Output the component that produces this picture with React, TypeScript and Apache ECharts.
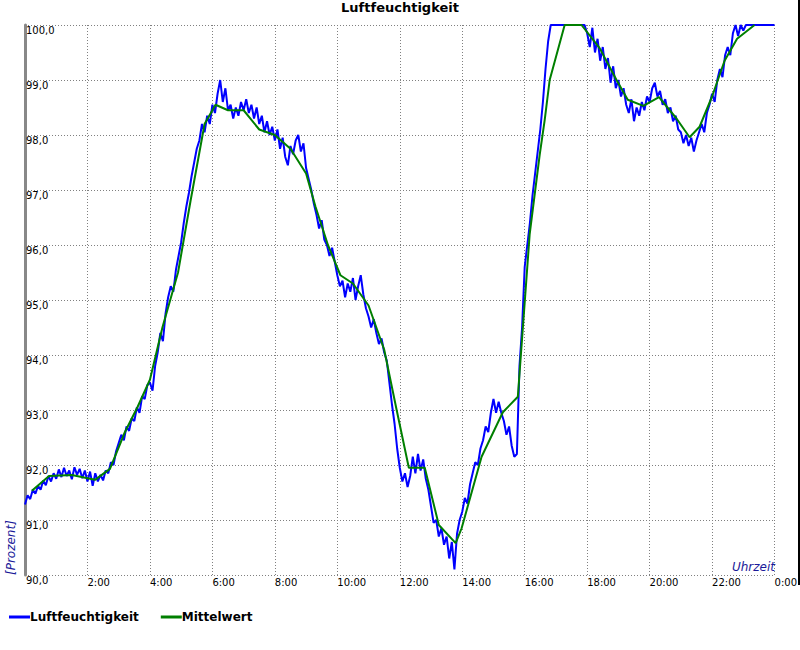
import React, { useEffect, useRef } from "react";
import * as echarts from "echarts";

// Tick labels
const X_TICKS_HOURS = [0, 2, 4, 6, 8, 10, 12, 14, 16, 18, 20, 22, 24];
const Y_MIN = 90;
const Y_MAX = 100;

// Humidity (%), 5-minute samples, one row per hour (0:00 .. 23:55)
const HUMIDITY_BY_HOUR: number[][] = [
  [91.28, 91.45, 91.38, 91.55, 91.48, 91.62, 91.55, 91.72, 91.63, 91.80, 91.70, 91.85],
  [91.75, 91.92, 91.78, 91.95, 91.80, 91.90, 91.74, 91.96, 91.82, 91.93, 91.76, 91.90],
  [91.70, 91.88, 91.62, 91.85, 91.70, 91.82, 91.72, 91.90, 91.85, 92.05, 92.00, 92.25],
  [92.40, 92.55, 92.45, 92.70, 92.62, 92.85, 92.80, 93.05, 92.95, 93.25, 93.20, 93.45],
  [93.50, 93.35, 93.80, 94.05, 94.40, 94.25, 94.75, 95.05, 95.25, 95.15, 95.55, 95.80],
  [96.05, 96.40, 96.70, 96.95, 97.25, 97.50, 97.75, 97.90, 98.20, 98.05, 98.35, 98.20],
  [98.55, 98.40, 98.75, 99.00, 98.60, 98.85, 98.45, 98.55, 98.30, 98.50, 98.35, 98.60],
  [98.45, 98.65, 98.40, 98.55, 98.30, 98.50, 98.20, 98.35, 98.05, 98.25, 98.00, 98.15],
  [97.90, 98.10, 97.75, 97.95, 97.60, 97.45, 97.80, 97.65, 97.90, 98.00, 97.70, 97.85],
  [97.40, 97.20, 97.00, 96.75, 96.55, 96.30, 96.45, 96.10, 96.00, 95.80, 95.95, 95.70],
  [95.45, 95.25, 95.35, 95.05, 95.30, 95.15, 95.40, 95.00, 95.25, 95.45, 95.10, 94.85],
  [94.70, 94.50, 94.65, 94.40, 94.20, 94.30, 94.05, 93.90, 93.50, 93.10, 92.75, 92.30],
  [91.95, 91.70, 91.85, 91.60, 91.80, 92.15, 91.85, 92.20, 91.90, 92.10, 91.75, 91.55],
  [91.25, 90.95, 91.00, 90.70, 90.85, 90.55, 90.70, 90.30, 90.60, 90.10, 90.75, 91.00],
  [91.15, 91.40, 91.30, 91.65, 91.85, 92.05, 92.00, 92.30, 92.45, 92.70, 92.60, 92.95],
  [93.20, 92.95, 93.15, 92.95, 92.80, 92.55, 92.70, 92.35, 92.15, 92.20, 93.80, 94.50],
  [95.60, 96.00, 96.40, 96.90, 97.30, 97.70, 98.10, 98.60, 99.20, 99.70, 100.0, 100.0],
  [100.0, 100.0, 100.0, 100.0, 100.0, 100.0, 100.0, 100.0, 100.0, 100.0, 100.0, 100.0],
  [99.85, 99.60, 99.95, 99.50, 99.75, 99.35, 99.60, 99.20, 99.40, 98.95, 99.25, 98.85],
  [99.00, 98.70, 98.85, 98.55, 98.40, 98.65, 98.25, 98.50, 98.35, 98.60, 98.45, 98.70],
  [98.60, 98.85, 98.95, 98.70, 98.80, 98.55, 98.65, 98.40, 98.50, 98.25, 98.35, 98.10],
  [98.05, 97.85, 98.00, 97.80, 97.95, 97.70, 97.90, 98.05, 98.20, 98.05, 98.40, 98.55],
  [98.75, 98.60, 99.00, 99.20, 99.05, 99.45, 99.60, 99.45, 99.85, 100.0, 99.80, 100.0],
  [99.90, 100.0, 100.0, 100.0, 100.0, 100.0, 100.0, 100.0, 100.0, 100.0, 100.0, 100.0],
];
const HUMIDITY_AT_MIDNIGHT = 100.0;
const SAMPLES_PER_HOUR = 12;

// Mittelwert (moving mean): [hour, %]
const MEAN_HOURS = [
  0.22, 0.77, 1.5, 2.24, 2.72, 3.2, 3.6, 4.0, 4.4, 4.9, 5.3, 5.75, 6.1, 6.5, 7.0, 7.5,
  8.0, 8.5, 9.0, 9.3, 9.7, 10.1, 10.5, 11.0, 11.5, 11.9, 12.29, 12.8, 13.25, 13.79,
  13.98, 14.62, 15.3, 15.78, 16.16, 16.48, 16.64, 16.8, 17.28, 17.82, 18.4, 18.94,
  19.3, 19.8, 20.3, 20.86, 21.28, 21.6, 22.0, 22.4, 22.8, 23.36,
];
const MEAN_VALUES = [
  91.53, 91.80, 91.82, 91.73, 91.93, 92.60, 93.05, 93.55, 94.50, 95.50, 96.80, 98.20,
  98.55, 98.45, 98.45, 98.10, 98.00, 97.75, 97.30, 96.70, 96.00, 95.45, 95.30, 94.90,
  94.10, 93.00, 91.95, 91.95, 90.91, 90.58, 90.85, 92.15, 92.96, 93.24, 96.20, 97.64,
  98.27, 99.00, 100.0, 100.0, 99.58, 99.00, 98.64, 98.53, 98.69, 98.30, 97.96, 98.15,
  98.70, 99.35, 99.75, 100.0,
];

const FONT = "DejaVu Sans";
const AXIS_NAME_COLOR = "#1a1a99";

export default function App() {
  const ref = useRef<HTMLDivElement>(null);

  useEffect(() => {
    document.body.style.margin = "0";
    if (!ref.current) return;
    const chart = echarts.init(ref.current, null, { renderer: "svg" });

    const humidity: [number, number][] = [];
    HUMIDITY_BY_HOUR.forEach((row, h) => {
      row.forEach((v, i) => humidity.push([h + i / SAMPLES_PER_HOUR, v]));
    });
    humidity.push([24, HUMIDITY_AT_MIDNIGHT]);
    const mean: [number, number][] = MEAN_HOURS.map((h, i) => [h, MEAN_VALUES[i]]);

    chart.setOption({
      animation: false,
      backgroundColor: "#ffffff",
      textStyle: { fontFamily: FONT },
      title: {
        text: "Luftfeuchtigkeit",
        left: "center",
        top: 0,
        padding: [1, 0, 0, 0],
        textStyle: { fontSize: 13, fontWeight: "bold", color: "#000", fontFamily: FONT },
      },
      legend: {
        left: 9,
        top: 611,
        padding: 0,
        icon: "rect",
        itemWidth: 21,
        itemHeight: 3,
        itemGap: 22,
        textStyle: {
          fontSize: 12,
          fontWeight: "bold",
          color: "#000",
          fontFamily: FONT,
          padding: [0, 0, 0, -5],
        },
        data: ["Luftfeuchtigkeit", "Mittelwert"],
      },
      grid: { left: 25, right: 25, top: 25, bottom: 75, containLabel: false },
      xAxis: {
        type: "value",
        min: 0,
        max: 24,
        interval: 2,
        axisLine: { show: false },
        axisTick: { show: false },
        axisLabel: {
          show: true,
          margin: 2,
          align: "left",
          fontSize: 10,
          color: "#000",
          fontFamily: FONT,
          showMinLabel: true,
          showMaxLabel: true,
          formatter: (v: number) => {
            if (!X_TICKS_HOURS.includes(v) || v === 0) return "";
            return `${v % 24}:00`;
          },
        },
        splitLine: { show: true, lineStyle: { color: "#808080", width: 1, type: [1, 2] } },
      },
      yAxis: {
        type: "value",
        min: Y_MIN,
        max: Y_MAX,
        interval: 1,
        axisLine: { show: true, onZero: false, lineStyle: { color: "#888888", width: 3 } },
        axisTick: { show: false },
        axisLabel: {
          inside: true,
          margin: 1,
          align: "left",
          verticalAlign: "top",
          fontSize: 10,
          color: "#000",
          fontFamily: FONT,
          formatter: (v: number) => v.toFixed(1).replace(".", ","),
        },
        splitLine: { show: true, lineStyle: { color: "#808080", width: 1, type: [1, 2] } },
      },
      graphic: [
        {
          type: "text",
          x: 17,
          y: 575,
          rotation: Math.PI / 2,
          style: {
            text: "[Prozent]",
            fill: AXIS_NAME_COLOR,
            font: `italic 12px "${FONT}"`,
            align: "left",
            verticalAlign: "bottom",
          },
        },
        {
          type: "text",
          x: 775,
          y: 573,
          style: {
            text: "Uhrzeit",
            fill: AXIS_NAME_COLOR,
            font: `italic 12px "${FONT}"`,
            align: "right",
            verticalAlign: "bottom",
          },
        },
        {
          type: "rect",
          shape: { x: 798, y: 0, width: 2, height: 585 },
          style: { fill: "#000" },
        },
      ],
      series: [
        {
          name: "Luftfeuchtigkeit",
          type: "line",
          data: humidity,
          showSymbol: false,
          symbol: "none",
          color: "#0000ff",
          lineStyle: { color: "#0000ff", width: 2 },
          z: 2,
        },
        {
          name: "Mittelwert",
          type: "line",
          data: mean,
          showSymbol: false,
          symbol: "none",
          color: "#007f00",
          lineStyle: { color: "#007f00", width: 2 },
          z: 3,
        },
      ],
    });

    return () => chart.dispose();
  }, []);

  return <div ref={ref} style={{ width: 800, height: 650 }} />;
}
